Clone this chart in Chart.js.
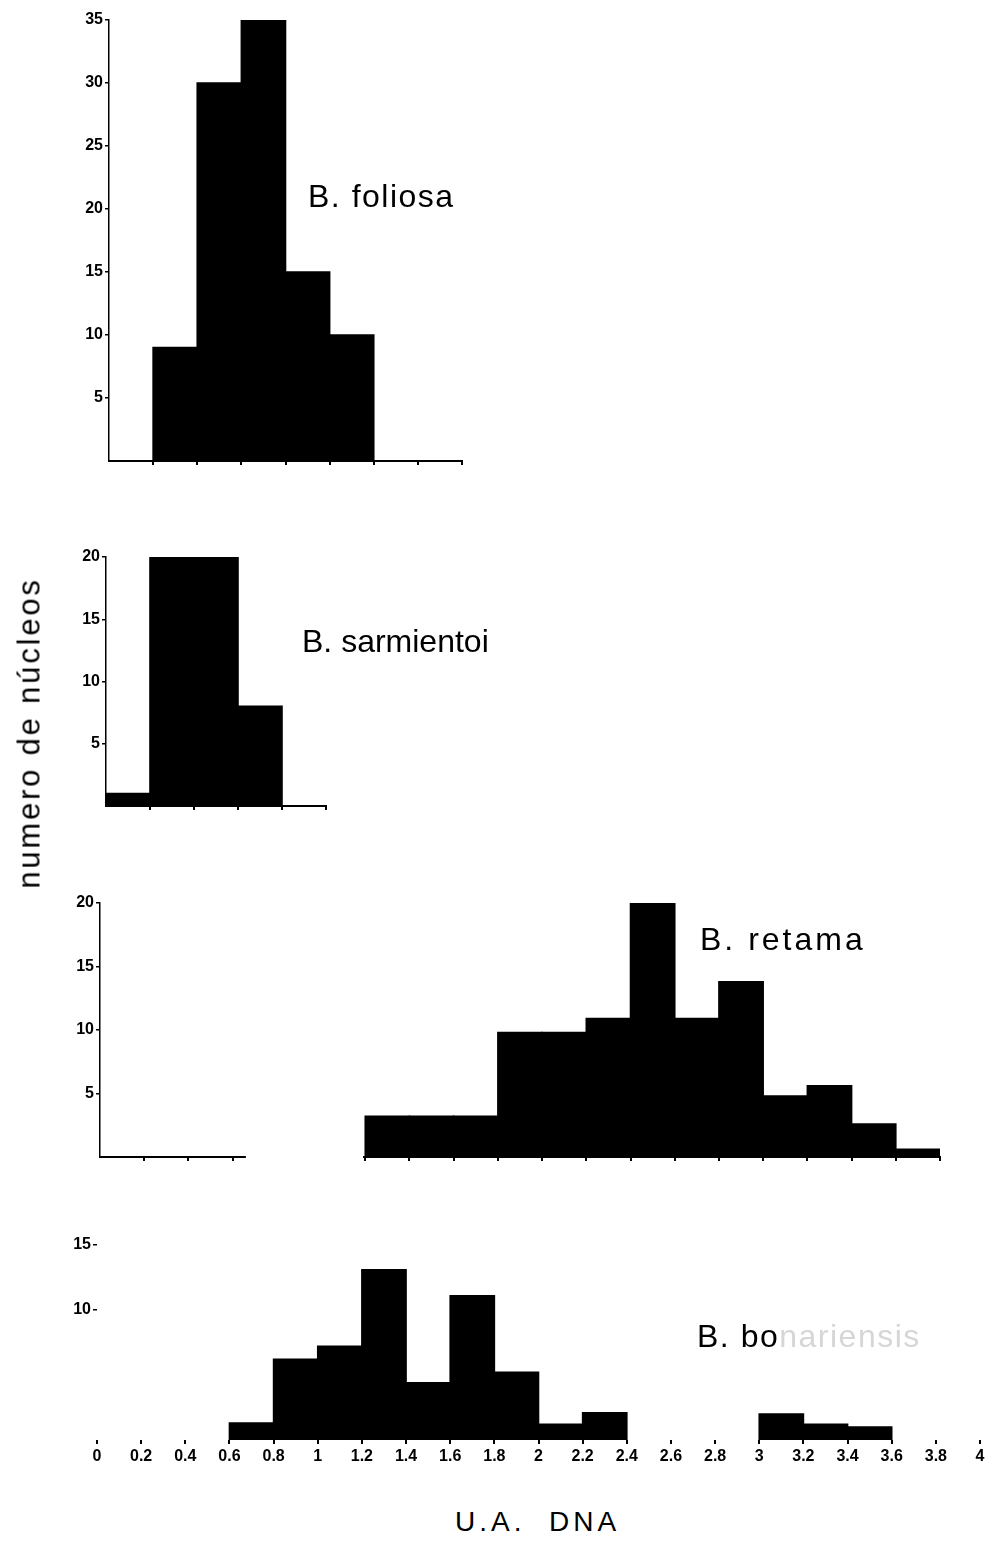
<!DOCTYPE html>
<html>
<head>
<meta charset="utf-8">
<script src="https://cdn.jsdelivr.net/npm/chart.js@4.4.1/dist/chart.umd.min.js"></script>
<style>
  body { margin: 0; background: #fff; width: 988px; height: 1546px; position: relative; overflow: hidden;
         font-family: "Liberation Sans", Arial, sans-serif; }
  canvas { position: absolute; }
  .lbl { position: absolute; font-size: 32px; line-height: 32px; letter-spacing: 1.5px; color: #000; white-space: pre; }
  .faded { color: #d6d6d6; }
  #ytitle { position: absolute; left: 29px; top: 733px; transform: translate(-50%, -50%) rotate(-90deg);
            font-size: 31px; line-height: 31px; letter-spacing: 2.8px; white-space: pre; }
  #xtitle { position: absolute; left: 455px; top: 1508px; font-size: 28px; line-height: 28px; letter-spacing: 4px; white-space: pre; }
</style>
</head>
<body>
<canvas id="foliosa"></canvas>
<canvas id="sarmientoi"></canvas>
<canvas id="retama"></canvas>
<canvas id="bonariensis"></canvas>

<div class="lbl" style="left:308px;top:180px">B. foliosa</div>
<div class="lbl" style="left:302px;top:625px;letter-spacing:0">B. sarmientoi</div>
<div class="lbl" style="left:700px;top:923px;letter-spacing:3px">B. retama</div>
<div class="lbl" style="left:697px;top:1320px">B. bo<span class="faded">nariensis</span></div>
<div id="ytitle">numero de núcleos</div>
<div id="xtitle">U.A.  DNA</div>

<script>
// bin lower edges (U.A. DNA) and heights (numero de nucleos)
const binWidth = 0.2;

const foliosaBins = [0.2, 0.4, 0.6, 0.8, 1.0];
const foliosaCounts = [9, 30, 35, 15, 10];
const foliosaYTicks = [5, 10, 15, 20, 25, 30, 35];
const foliosaXTicks = [0.2, 0.4, 0.6, 0.8, 1.0, 1.2, 1.4, 1.6];

const sarmientoiBins = [0, 0.2, 0.4, 0.6];
const sarmientoiCounts = [1, 20, 20, 8];
const sarmientoiYTicks = [5, 10, 15, 20];
const sarmientoiXTicks = [0.2, 0.4, 0.6, 0.8, 1.0];

const retamaBins = [1.2, 1.4, 1.6, 1.8, 2.0, 2.2, 2.4, 2.6, 2.8, 3.0, 3.2, 3.4, 3.6];
const retamaCounts = [3.2, 3.2, 3.2, 9.8, 9.8, 10.9, 20, 10.9, 13.8, 4.8, 5.6, 2.6, 0.6];
const retamaYTicks = [5, 10, 15, 20];
const retamaXTicks = [0.2, 0.4, 0.6, 1.2, 1.4, 1.6, 1.8, 2.0, 2.2, 2.4, 2.6, 2.8, 3.0, 3.2, 3.4, 3.6, 3.8];
const retamaAxisGap = [0.66, 1.19];

const bonariensisBins = [0.6, 0.8, 1.0, 1.2, 1.4, 1.6, 1.8, 2.0, 2.2, 3.0, 3.2, 3.4];
const bonariensisCounts = [1.3, 6.2, 7.2, 13.1, 4.4, 11.1, 5.2, 1.2, 2.1, 2.0, 1.2, 1.0];
const bonariensisYTicks = [10, 15];

const xTickLabels = ['0', '0.2', '0.4', '0.6', '0.8', '1', '1.2', '1.4', '1.6', '1.8', '2',
                     '2.2', '2.4', '2.6', '2.8', '3', '3.2', '3.4', '3.6', '3.8', '4'];

const Y_W = 60;
const tickFont = { family: '"Liberation Sans", Arial, sans-serif', size: 16, weight: 'bold' };

// white-out a stretch of the baseline (the broken axis of B. retama)
const axisGap = {
  id: 'axisGap',
  afterDraw(chart, args, opts) {
    if (!opts.range) return;
    const x = chart.scales.x;
    const ctx = chart.ctx;
    const a = x.getPixelForValue(opts.range[0]);
    const b = x.getPixelForValue(opts.range[1]);
    ctx.save();
    ctx.fillStyle = '#fff';
    ctx.fillRect(a, chart.chartArea.bottom - 3, b - a, 10);
    ctx.restore();
  }
};

function makePanel(id, area, o) {
  const padT = 15, padR = o.padR || 15, xH = o.xH || 12;
  const canvas = document.getElementById(id);
  const w = Y_W + (area.right - area.left) + padR;
  const h = padT + (area.bottom - area.top) + xH;
  canvas.width = w; canvas.height = h;
  canvas.style.left = (area.left - Y_W) + 'px';
  canvas.style.top = (area.top - padT) + 'px';
  canvas.style.width = w + 'px'; canvas.style.height = h + 'px';

  const xTicks = o.xTicks;
  return new Chart(canvas, {
    type: 'bar',
    data: {
      datasets: [{
        data: o.bins.map((b, i) => ({ x: b + binWidth / 2, y: o.counts[i] })),
        backgroundColor: '#000',
        borderWidth: 0,
        inflateAmount: 0.8,
        barPercentage: 1,
        categoryPercentage: 1
      }]
    },
    plugins: [axisGap],
    options: {
      responsive: false,
      animation: false,
      devicePixelRatio: 1,
      layout: { autoPadding: false, padding: { top: padT, right: padR, left: 0, bottom: 0 } },
      plugins: { legend: { display: false }, tooltip: { enabled: false }, axisGap: { range: o.gap } },
      scales: {
        x: {
          type: 'linear', min: 0, max: o.xMax, offset: false,
          afterBuildTicks: s => { s.ticks = xTicks.map(v => ({ value: v })); },
          afterFit: s => { s.height = xH; },
          grid: { offset: false, drawOnChartArea: false, drawTicks: true, tickLength: 4, color: '#000', lineWidth: 2 },
          border: { display: o.xBorder, color: '#000', width: 2 },
          ticks: {
            display: !!o.xLabels, autoSkip: false, maxRotation: 0, padding: 3, color: '#000', font: tickFont,
            callback: (v, i) => o.xLabels ? o.xLabels[i] : ''
          }
        },
        y: {
          min: 0, max: o.yMax,
          afterBuildTicks: s => { s.ticks = o.yTicks.map(v => ({ value: v })); },
          afterFit: s => { s.width = Y_W; },
          grid: { drawOnChartArea: false, drawTicks: true, tickLength: 4, color: '#000', lineWidth: 1.5 },
          border: { display: o.yBorder, color: '#000', width: 1.5, dash: [5, 4] },
          ticks: { padding: 2, color: '#000', font: tickFont }
        }
      }
    }
  });
}

makePanel('foliosa', { left: 109, right: 462, top: 20, bottom: 461 }, {
  bins: foliosaBins, counts: foliosaCounts, yTicks: foliosaYTicks, xTicks: foliosaXTicks,
  xMax: 1.6, yMax: 35, xBorder: true, yBorder: true
});

makePanel('sarmientoi', { left: 106, right: 326, top: 557, bottom: 806 }, {
  bins: sarmientoiBins, counts: sarmientoiCounts, yTicks: sarmientoiYTicks, xTicks: sarmientoiXTicks,
  xMax: 1.0, yMax: 20, xBorder: true, yBorder: true
});

makePanel('retama', { left: 100, right: 940, top: 903, bottom: 1157 }, {
  bins: retamaBins, counts: retamaCounts, yTicks: retamaYTicks, xTicks: retamaXTicks,
  xMax: 3.8, yMax: 20, xBorder: true, yBorder: true, gap: retamaAxisGap
});

makePanel('bonariensis', { left: 97, right: 980, top: 1245, bottom: 1440 }, {
  bins: bonariensisBins, counts: bonariensisCounts, yTicks: bonariensisYTicks,
  xTicks: xTickLabels.map(parseFloat), xLabels: xTickLabels,
  xMax: 4.0, yMax: 15, xBorder: false, yBorder: false, xH: 30, padR: 8
});
</script>
</body>
</html>
